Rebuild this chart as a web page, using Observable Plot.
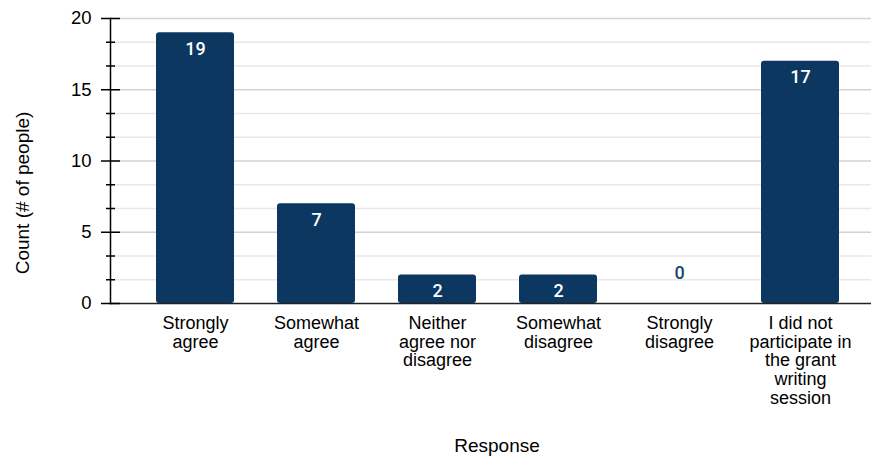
<!DOCTYPE html>
<html><head><meta charset="utf-8">
<script src="https://cdn.jsdelivr.net/npm/d3@7"></script>
<script src="https://cdn.jsdelivr.net/npm/@observablehq/plot@0.6"></script>
<style>body{margin:0;background:#fff;}</style>
</head><body><div id="chart"></div>
<script>
const categories = ["Strongly agree","Somewhat agree","Neither agree nor disagree","Somewhat disagree","Strongly disagree","I did not participate in the grant writing session"];
const tickLabels = ["Strongly\nagree","Somewhat\nagree","Neither\nagree nor\ndisagree","Somewhat\ndisagree","Strongly\ndisagree","I did not\nparticipate in\nthe grant\nwriting\nsession"];
const counts = [19, 7, 2, 2, 0, 17];
const majorTicks = [0, 5, 10, 15, 20];
const minorTicks = [1.667, 3.333, 6.667, 8.333, 11.667, 13.333, 16.667, 18.333];
const gridMajor = [5, 10, 15, 20];
const yTitle = "Count (# of people)";
const xTitle = "Response";

const data = categories.map((c, i) => ({category: c, count: counts[i]}));
const navy = "#0b3761";

const chart = Plot.plot({
  width: 871, height: 457,
  marginLeft: 110, marginRight: 0, marginTop: 18, marginBottom: 154,
  x: {domain: categories, paddingInner: 0.353, paddingOuter: 0, insetLeft: 45, insetRight: 31, label: null},
  y: {domain: [0, 20], label: null},
  style: {fontFamily: "'Liberation Sans', Arial, sans-serif", fontSize: "18.5px", color: "#000", background: "#fff"},
  marks: [
    Plot.ruleY(minorTicks, {stroke: "#e8e8e8", strokeWidth: 1.5}),
    Plot.ruleY(gridMajor, {stroke: "#d2d2d2", strokeWidth: 1.5}),
    Plot.barY(data, {x: "category", y: "count", fill: navy, rx: 3}),
    Plot.ruleY([0], {stroke: "#222", strokeWidth: 1.5}),
    Plot.frame({anchor: "left", stroke: "#000", strokeWidth: 1.5}),
    Plot.axisY(majorTicks, {tickSize: 19, dx: 10, text: null, stroke: "#000", strokeWidth: 1.5}),
    Plot.axisY(minorTicks, {tickSize: 9, dx: 5, text: null, stroke: "#000", strokeWidth: 1.5}),
    Plot.axisY(majorTicks, {tickSize: 0, tickPadding: 19, fontSize: 18.5, label: null}),
    Plot.axisX({tickSize: 0, tickPadding: 12, fontSize: 18, lineHeight: 1.04, label: null,
      tickFormat: d => tickLabels[categories.indexOf(d)]}),
    Plot.text(data.filter(d => d.count > 0), {x: "category", y: "count", text: d => String(d.count),
      dy: 16, fill: "#fff", fontFamily: "Roboto", fontWeight: 500, fontSize: 18}),
    Plot.text(data.filter(d => d.count === 0), {x: "category", y: "count", text: d => String(d.count),
      dy: -30, fill: "#1a4673", fontFamily: "Roboto", fontWeight: 500, fontSize: 18}),
    Plot.text([xTitle], {frameAnchor: "bottom", dx: 6, dy: 142, lineAnchor: "middle", textAnchor: "middle", fontSize: 19}),
    Plot.text([yTitle], {frameAnchor: "left", rotate: -90, dx: -88, dy: 32, lineAnchor: "middle", textAnchor: "middle", fontSize: 19})
  ]
});
document.getElementById("chart").append(chart);
</script>
</body></html>
